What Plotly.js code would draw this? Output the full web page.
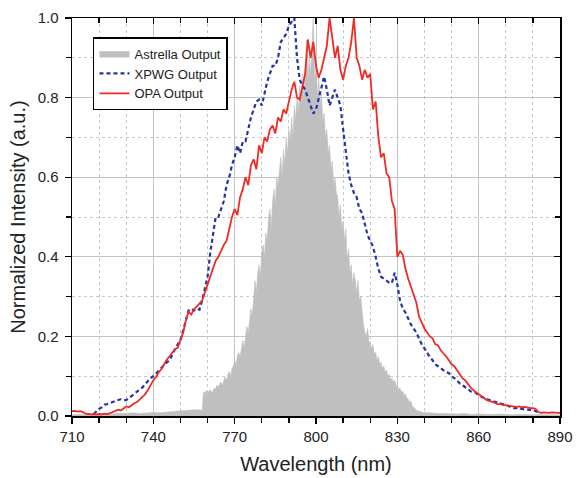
<!DOCTYPE html>
<html>
<head>
<meta charset="utf-8">
<script src="https://cdn.plot.ly/plotly-3.0.1.min.js"></script>
<style>html,body{margin:0;padding:0;background:#fff;}#chart{width:576px;height:478px;}</style>
</head>
<body>
<div id="chart"></div>
<script>
// ---- Data ----
// Astrella Output: left baseline 710..757.5 step 2.5
const astrellaLeftStart = 710, astrellaLeftStep = 2.5;
const astrellaLeft = [0.003,0.004,0.003,0.005,0.004,0.006,0.005,0.007,0.006,0.008,
                      0.006,0.007,0.009,0.008,0.01,0.011,0.013,0.014,0.016,0.015];
// Astrella Output: main band 758..840 step 0.5
const astrellaMainStart = 758, astrellaMainStep = 0.5;
const astrellaMain = [
 0.012,0.06,0.058,0.064,0.055,0.062,0.066,0.058,0.064,0.07,
 0.068,0.078,0.072,0.082,0.085,0.078,0.09,0.098,0.088,0.105,
 0.112,0.1,0.118,0.125,0.14,0.128,0.15,0.16,0.148,0.175,
 0.19,0.172,0.2,0.225,0.21,0.24,0.27,0.25,0.3,0.34,
 0.31,0.36,0.38,0.35,0.41,0.43,0.4,0.46,0.44,0.5,
 0.52,0.47,0.54,0.57,0.53,0.6,0.58,0.62,0.65,0.6,
 0.67,0.63,0.7,0.66,0.72,0.69,0.75,0.7,0.78,0.74,
 0.8,0.76,0.83,0.79,0.86,0.8,0.88,0.945,0.84,0.9,
 0.86,0.93,1.0,0.84,0.88,0.8,0.85,0.78,0.81,0.74,
 0.76,0.7,0.72,0.66,0.68,0.62,0.64,0.58,0.6,0.56,
 0.55,0.5,0.53,0.47,0.49,0.44,0.47,0.39,0.42,0.36,
 0.38,0.33,0.36,0.34,0.31,0.34,0.29,0.3,0.26,0.23,
 0.21,0.2,0.22,0.19,0.18,0.17,0.18,0.155,0.16,0.14,
 0.15,0.13,0.135,0.12,0.125,0.11,0.115,0.1,0.105,0.092,
 0.095,0.085,0.09,0.078,0.074,0.068,0.07,0.06,0.062,0.052,
 0.055,0.045,0.042,0.035,0.038,0.025,0.022,0.018,0.016,0.012,
 0.013,0.01,0.011,0.008,0.009];
// Astrella Output: right baseline 842.5..890 step 2.5
const astrellaRightStart = 842.5, astrellaRightStep = 2.5;
const astrellaRight = [0.007,0.006,0.006,0.005,0.005,0.006,0.004,0.005,0.004,0.004,
                       0.005,0.004,0.003,0.004,0.003,0.003,0.004,0.003,0.003,0.003];

// OPA Output: 710..890 step 1
const opaStart = 710, opaStep = 1;
const opa = [
 0.012,0.013,0.011,0.012,0.01,0.006,0.005,0.004,0.005,0.004,
 0.005,0.004,0.006,0.005,0.007,0.01,0.012,0.016,0.014,0.02,
 0.024,0.022,0.028,0.032,0.035,0.042,0.048,0.055,0.065,0.078,
 0.09,0.098,0.11,0.118,0.13,0.142,0.15,0.158,0.168,0.172,
 0.19,0.21,0.24,0.262,0.255,0.268,0.275,0.282,0.29,0.31,
 0.33,0.345,0.365,0.39,0.4,0.415,0.43,0.44,0.47,0.5,
 0.52,0.505,0.55,0.57,0.6,0.58,0.63,0.645,0.62,0.68,
 0.66,0.7,0.69,0.72,0.73,0.71,0.75,0.74,0.77,0.76,
 0.79,0.82,0.84,0.8,0.795,0.83,0.86,0.946,0.9,0.94,
 0.88,0.85,0.87,0.9,0.93,1.0,0.95,0.9,0.93,0.87,
 0.845,0.88,0.9,0.94,1.0,0.9,0.88,0.845,0.87,0.85,
 0.86,0.77,0.79,0.7,0.65,0.66,0.61,0.6,0.54,0.52,
 0.4,0.415,0.405,0.37,0.345,0.325,0.3,0.285,0.25,0.235,
 0.22,0.21,0.2,0.195,0.18,0.178,0.165,0.157,0.15,0.14,
 0.13,0.125,0.116,0.105,0.095,0.09,0.08,0.072,0.065,0.06,
 0.055,0.05,0.045,0.04,0.038,0.036,0.033,0.03,0.03,0.028,
 0.027,0.026,0.025,0.024,0.023,0.024,0.022,0.023,0.021,0.02,
 0.02,0.018,0.01,0.008,0.009,0.008,0.008,0.009,0.008,0.008,
 0.008];

// XPWG Output: 718..882 step 1
const xpwgStart = 718, xpwgStep = 1;
const xpwg = [
 0.005,0.012,0.018,0.022,0.028,0.03,0.032,0.035,0.038,0.04,
 0.042,0.04,0.04,0.045,0.05,0.055,0.06,0.065,0.072,0.08,
 0.088,0.095,0.1,0.107,0.115,0.122,0.13,0.135,0.14,0.155,
 0.168,0.18,0.19,0.215,0.24,0.265,0.27,0.265,0.27,0.267,
 0.29,0.32,0.35,0.41,0.46,0.5,0.5,0.52,0.54,0.58,
 0.6,0.63,0.65,0.68,0.66,0.69,0.69,0.72,0.75,0.77,
 0.79,0.795,0.78,0.81,0.84,0.86,0.88,0.88,0.9,0.94,
 0.95,0.96,0.98,0.99,1.0,0.9,0.845,0.83,0.82,0.8,
 0.78,0.76,0.77,0.8,0.83,0.853,0.82,0.78,0.8,0.82,
 0.8,0.78,0.72,0.66,0.61,0.58,0.56,0.55,0.52,0.51,
 0.48,0.455,0.44,0.426,0.4,0.37,0.35,0.345,0.34,0.335,
 0.334,0.36,0.33,0.29,0.27,0.26,0.245,0.23,0.22,0.21,
 0.195,0.18,0.17,0.158,0.148,0.14,0.13,0.125,0.12,0.115,
 0.11,0.108,0.1,0.095,0.09,0.082,0.078,0.072,0.068,0.062,
 0.06,0.058,0.052,0.048,0.045,0.042,0.04,0.038,0.036,0.034,
 0.033,0.03,0.028,0.025,0.022,0.02,0.02,0.018,0.018,0.016,
 0.016,0.015,0.015,0.012,0.01];

const seriesNames = ['Astrella Output', 'XPWG Output', 'OPA Output'];
const xTickVals = [710, 740, 770, 800, 830, 860, 890];
const yTickVals = [0.0, 0.2, 0.4, 0.6, 0.8, 1.0];

// ---- build sampling grids ----
function grid(start, step, n) { const a = []; for (let i = 0; i < n; i++) a.push(+(start + i * step).toFixed(3)); return a; }
const astX = grid(astrellaLeftStart, astrellaLeftStep, astrellaLeft.length)
  .concat(grid(astrellaMainStart, astrellaMainStep, astrellaMain.length))
  .concat(grid(astrellaRightStart, astrellaRightStep, astrellaRight.length));
const astY = astrellaLeft.concat(astrellaMain).concat(astrellaRight);

const FONT = '"Liberation Sans", Arial, Helvetica, sans-serif';
const gray = '#bfbfbf', blue = '#2433a8', red = '#ee2b24';

const traces = [
  {x: astX, y: astY, name: seriesNames[0], type: 'scatter', mode: 'lines',
   fill: 'tozeroy', fillcolor: gray, line: {color: gray, width: 0.6}},
  {x: grid(xpwgStart, xpwgStep, xpwg.length), y: xpwg, name: seriesNames[1], type: 'scatter', mode: 'lines',
   line: {color: blue, width: 2.2, dash: '4px,3px'}},
  {x: grid(opaStart, opaStep, opa.length), y: opa, name: seriesNames[2], type: 'scatter', mode: 'lines',
   line: {color: red, width: 1.8}},
  {x: [], y: [], xaxis: 'x2', yaxis: 'y2', showlegend: false, hoverinfo: 'skip'}
];

const gridMajor = '#c4c4c4', gridMinor = '#c8c8c8';
const layout = {
  width: 576, height: 478,
  margin: {l: 72, r: 16, t: 18, b: 62},
  paper_bgcolor: '#fff', plot_bgcolor: '#fff',
  font: {family: FONT, color: '#222'},
  showlegend: true,
  legend: {x: 0.043, y: 0.952, xanchor: 'left', yanchor: 'top',
           bgcolor: '#fff', bordercolor: '#000', borderwidth: 1.5,
           font: {family: FONT, size: 13, color: '#222'}, tracegroupgap: 0},
  xaxis: {range: [710, 890], tickmode: 'array', tickvals: xTickVals,
          ticks: 'outside', ticklen: 6, tickwidth: 1.3, tickcolor: '#000',
          showline: true, linecolor: '#000', linewidth: 1.5,
          showgrid: true, gridcolor: gridMajor, gridwidth: 1, zeroline: false,
          tickfont: {size: 15, family: FONT, color: '#222'},
          minor: {dtick: 10, tick0: 710, ticks: 'outside', ticklen: 5, tickwidth: 1.3, tickcolor: '#000',
                  showgrid: true, gridcolor: gridMinor, griddash: 'dot', gridwidth: 1},
          title: {text: 'Wavelength (nm)', font: {size: 20, family: FONT, color: '#222'}, standoff: 13}},
  yaxis: {range: [0, 1.0], tickmode: 'array', tickvals: yTickVals, tickformat: '.1f',
          ticks: 'outside', ticklen: 6, tickwidth: 1.3, tickcolor: '#000',
          showline: true, linecolor: '#000', linewidth: 1.5,
          showgrid: true, gridcolor: gridMajor, gridwidth: 1, zeroline: false,
          ticklabelstandoff: 3,
          tickfont: {size: 15, family: FONT, color: '#222'},
          minor: {dtick: 0.1, tick0: 0, ticks: 'outside', ticklen: 5, tickwidth: 1.3, tickcolor: '#000',
                  showgrid: true, gridcolor: gridMinor, griddash: 'dot', gridwidth: 1},
          title: {text: 'Normalized Intensity (a.u.)', font: {size: 20, family: FONT, color: '#222'}, standoff: 6}},
  xaxis2: {overlaying: 'x', side: 'top', range: [710, 890], tickmode: 'array', tickvals: xTickVals,
           ticks: 'inside', ticklen: 6, tickwidth: 1.3, tickcolor: '#000', showticklabels: false,
           showline: true, linecolor: '#000', linewidth: 1.5, showgrid: false, zeroline: false,
           minor: {dtick: 10, tick0: 710, ticks: 'inside', ticklen: 5, tickwidth: 1.3, tickcolor: '#000', showgrid: false}},
  yaxis2: {overlaying: 'y', side: 'right', range: [0, 1.0], tickmode: 'array', tickvals: yTickVals,
           ticks: 'inside', ticklen: 6, tickwidth: 1.3, tickcolor: '#000', showticklabels: false,
           showline: true, linecolor: '#000', linewidth: 1.5, showgrid: false, zeroline: false,
           minor: {dtick: 0.1, tick0: 0, ticks: 'inside', ticklen: 5, tickwidth: 1.3, tickcolor: '#000', showgrid: false}}
};

Plotly.newPlot('chart', traces, layout, {displayModeBar: false, staticPlot: true});
</script>
</body>
</html>
